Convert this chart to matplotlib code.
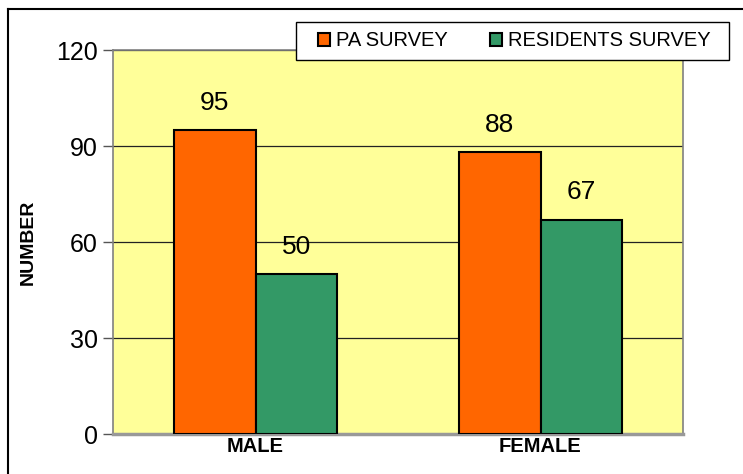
import numpy as np
import matplotlib.pyplot as plt
from matplotlib.lines import Line2D
from matplotlib.patches import Rectangle

plt.rcParams['font.family'] = ['Liberation Sans', 'DejaVu Sans']

# Survey counts by gender
categories = ['MALE', 'FEMALE']
pa_survey = [95, 88]
residents_survey = [50, 67]
series_names = ['PA SURVEY', 'RESIDENTS SURVEY']
yticks = [0, 30, 60, 90, 120]

ORANGE = '#FF6600'
GREEN = '#339966'
PLOT_BG = '#FFFF99'

W, H = 743, 474
fig = plt.figure(figsize=(W/100, H/100), dpi=100)
ax = fig.add_axes([113/W, 1 - 434/H, 570/W, 384/H])
ax.set_facecolor(PLOT_BG)

x = np.arange(len(categories))
w = 0.285
b1 = ax.bar(x - w/2, pa_survey, w, color=ORANGE, edgecolor='black', linewidth=1.5,
            label=series_names[0], zorder=3)
b2 = ax.bar(x + w/2, residents_survey, w, color=GREEN, edgecolor='black', linewidth=1.5,
            label=series_names[1], zorder=3)

for bars, vals in ((b1, pa_survey), (b2, residents_survey)):
    for r, v in zip(bars, vals):
        ax.annotate(str(v), (r.get_x() + r.get_width()/2, v), xytext=(0, 11),
                    textcoords='offset points', ha='center', va='bottom', fontsize=19)

ax.set_xlim(-0.5, 1.5)
ax.set_ylim(0, 120)
ax.set_yticks(yticks)
ax.yaxis.grid(True, color='#222222', linewidth=0.9, zorder=1)
ax.set_axisbelow(True)
ax.tick_params(axis='y', labelsize=18, length=7, width=1, color='#555555', pad=4)
ax.set_xticks(x)
ax.set_xticklabels(categories, fontsize=14.5, fontweight='bold')
ax.tick_params(axis='x', length=0, pad=2)
ax.set_ylabel('NUMBER', fontsize=14, fontweight='bold', labelpad=14)

for side in ('left', 'top', 'right'):
    ax.spines[side].set_color('#808080')
    ax.spines[side].set_linewidth(1.2)
ax.spines['bottom'].set_color('#999999')
ax.spines['bottom'].set_linewidth(2.5)

# legend box drawn separately so its padding can be set per side
fig.add_artist(Rectangle((296/W, 1 - 60/H), 433/W, 38/H, transform=fig.transFigure,
                         facecolor='white', edgecolor='black', linewidth=1.0, zorder=5))
leg = fig.legend(handles=[b1, b2], loc='center left',
                 bbox_to_anchor=(318/W, 1 - 41/H), ncol=2, fontsize=14.5,
                 frameon=False, handlelength=0.6, handleheight=0.6, handletextpad=0.3,
                 columnspacing=2.1, borderpad=0, borderaxespad=0)
leg.set_zorder(6)

# outer chart border (top and left edges)
fig.add_artist(Line2D([8/W, 8/W], [0, 1 - 9/H], color='black', linewidth=1.5,
                      transform=fig.transFigure))
fig.add_artist(Line2D([8/W, 1], [1 - 9/H, 1 - 9/H], color='black', linewidth=1.5,
                      transform=fig.transFigure))

fig.savefig('out.png', dpi=100)
